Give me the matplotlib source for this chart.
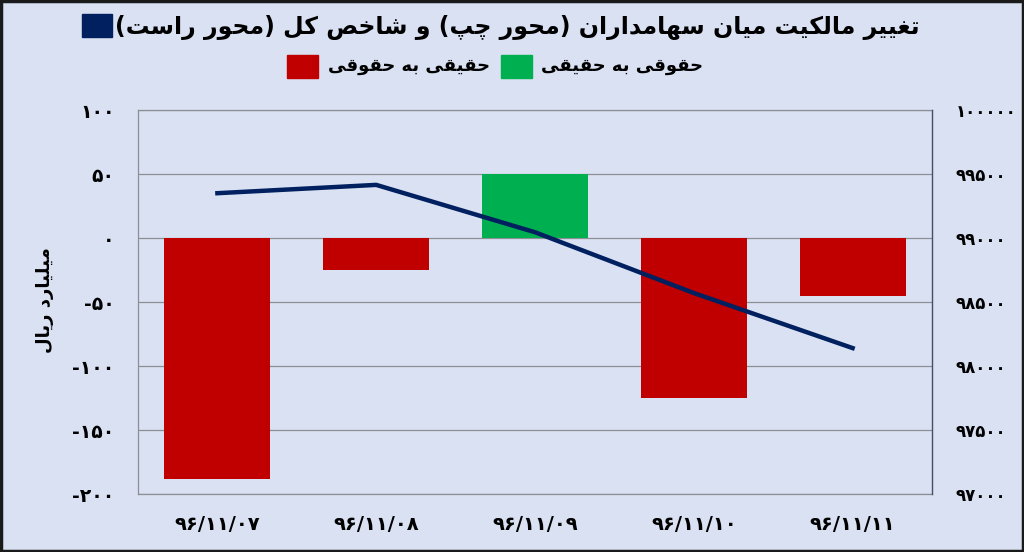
import matplotlib
matplotlib.use("Agg")
import matplotlib.pyplot as plt
import numpy as np
from matplotlib.patches import Rectangle

# data
dates = ["۹۶/۱۱/۰۷", "۹۶/۱۱/۰۸", "۹۶/۱۱/۰۹", "۹۶/۱۱/۱۰", "۹۶/۱۱/۱۱"]
net_flow = [-188, -25, 50, -125, -45]          # billion rial, left axis
index_values = [99350, 99415, 99045, 98570, 98140]  # total index, right axis

left_ticks = [100, 50, 0, -50, -100, -150, -200]
right_ticks = [100000, 99500, 99000, 98500, 98000, 97500, 97000]

title_txt = "تغییر مالکیت میان سهامداران (محور چپ) و شاخص کل (محور راست)"
red_txt = "حقیقی به حقوقی"
green_txt = "حقوقی به حقیقی"
ylabel_txt = "میلیارد ریال"

RED = "#C00000"
GREEN = "#00B050"
NAVY = "#002060"
BG = "#D9E1F2"

# minimal arabic/persian shaping (no arabic_reshaper available)
FORMS = {
    'ا': ('\uFE8D', '\uFE8E', None, None),
    'ب': ('\uFE8F', '\uFE90', '\uFE91', '\uFE92'),
    'ت': ('\uFE95', '\uFE96', '\uFE97', '\uFE98'),
    'ح': ('\uFEA1', '\uFEA2', '\uFEA3', '\uFEA4'),
    'خ': ('\uFEA5', '\uFEA6', '\uFEA7', '\uFEA8'),
    'د': ('\uFEA9', '\uFEAA', None, None),
    'ر': ('\uFEAD', '\uFEAE', None, None),
    'س': ('\uFEB1', '\uFEB2', '\uFEB3', '\uFEB4'),
    'ش': ('\uFEB5', '\uFEB6', '\uFEB7', '\uFEB8'),
    'ص': ('\uFEB9', '\uFEBA', '\uFEBB', '\uFEBC'),
    'غ': ('\uFECD', '\uFECE', '\uFECF', '\uFED0'),
    'ق': ('\uFED5', '\uFED6', '\uFED7', '\uFED8'),
    'ل': ('\uFEDD', '\uFEDE', '\uFEDF', '\uFEE0'),
    'م': ('\uFEE1', '\uFEE2', '\uFEE3', '\uFEE4'),
    'ن': ('\uFEE5', '\uFEE6', '\uFEE7', '\uFEE8'),
    'ه': ('\uFEE9', '\uFEEA', '\uFEEB', '\uFEEC'),
    'و': ('\uFEED', '\uFEEE', None, None),
    'پ': ('\uFB56', '\uFB57', '\uFB58', '\uFB59'),
    'چ': ('\uFB7A', '\uFB7B', '\uFB7C', '\uFB7D'),
    'ک': ('\uFB8E', '\uFB8F', '\uFB90', '\uFB91'),
    'ی': ('\uFBFC', '\uFBFD', '\uFBFE', '\uFBFF'),
}


def fa(text):
    out = []
    for i, ch in enumerate(text):
        if ch not in FORMS:
            out.append(ch)
            continue
        prev = text[i - 1] if i > 0 else None
        nxt = text[i + 1] if i < len(text) - 1 else None
        join_prev = prev in FORMS and FORMS[prev][2] is not None
        join_next = nxt in FORMS and FORMS[ch][2] is not None
        iso, fin, ini, med = FORMS[ch]
        if join_prev and join_next:
            out.append(med)
        elif join_prev:
            out.append(fin)
        elif join_next:
            out.append(ini)
        else:
            out.append(iso)
    s = ''.join(out)[::-1]
    return s.translate(str.maketrans('()', ')('))


def fa_num(v):
    return str(v).translate(str.maketrans('0123456789', '۰۱۲۳۴۵۶۷۸۹'))


plt.rcParams['font.family'] = ['DejaVu Sans']
plt.rcParams['font.weight'] = 'bold'

fig = plt.figure(figsize=(10.24, 5.52), dpi=100, facecolor=BG)
ax = fig.add_axes([138 / 1024, 1 - 494 / 552, (932 - 138) / 1024, (494 - 110) / 552])
ax.set_facecolor(BG)

x = np.arange(len(dates))
colors = [GREEN if v > 0 else RED for v in net_flow]
ax.bar(x, net_flow, width=0.667, color=colors, zorder=2)
ax.set_ylim(-200, 100)
ax.set_xlim(-0.5, len(dates) - 0.5)
ax.set_yticks(left_ticks)
ax.set_yticklabels([fa_num(t) for t in left_ticks], fontsize=13.5, fontweight='bold')
ax.set_xticks(x)
ax.set_xticklabels(dates, fontsize=14, fontweight='bold')
ax.tick_params(axis='both', length=0)
ax.tick_params(axis='y', pad=17)
ax.tick_params(axis='x', pad=15)
ax.grid(axis='y', color='#8c8f96', linewidth=0.9, zorder=0)
ax.set_axisbelow(True)
for side in ['left', 'bottom', 'top']:
    ax.spines[side].set_color('#8c8f96')
    ax.spines[side].set_linewidth(0.9)
ax.spines['right'].set_visible(False)

ax2 = ax.twinx()
ax2.plot(x, index_values, color=NAVY, linewidth=3.2, zorder=3)
ax2.set_ylim(97000, 100000)
ax2.set_yticks(right_ticks)
ax2.set_yticklabels([fa_num(t) for t in right_ticks], fontsize=12, fontweight='bold')
ax2.tick_params(axis='y', length=0, pad=17)
for side in ['left', 'bottom', 'top']:
    ax2.spines[side].set_visible(False)
ax2.spines['right'].set_color('#44506a')
ax2.spines['right'].set_linewidth(1.0)

fig.text(45 / 1024, 1 - 300 / 552, fa(ylabel_txt), rotation=90, ha='center', va='center',
         fontsize=13, fontweight='bold')

# title line with navy key
fig.text(920 / 1024, 1 - 27 / 552, fa(title_txt), ha='right', va='center',
         fontsize=17, fontweight='bold')
fig.patches.append(Rectangle((82 / 1024, 1 - 37 / 552), 30 / 1024, 23 / 552,
                             transform=fig.transFigure, color=NAVY))

# second legend line
fig.patches.append(Rectangle((287 / 1024, 1 - 78 / 552), 31 / 1024, 23 / 552,
                             transform=fig.transFigure, color=RED))
fig.text(490 / 1024, 1 - 66 / 552, fa(red_txt), ha='right', va='center',
         fontsize=13, fontweight='bold')
fig.patches.append(Rectangle((501 / 1024, 1 - 78 / 552), 31 / 1024, 23 / 552,
                             transform=fig.transFigure, color=GREEN))
fig.text(703 / 1024, 1 - 66 / 552, fa(green_txt), ha='right', va='center',
         fontsize=13, fontweight='bold')

# outer frame
fig.patches.append(Rectangle((0.001, 0.002), 0.998, 0.996, transform=fig.transFigure,
                             fill=False, edgecolor='#1a1a1a', linewidth=2.5))

fig.savefig("out.png", dpi=100, facecolor=BG)
